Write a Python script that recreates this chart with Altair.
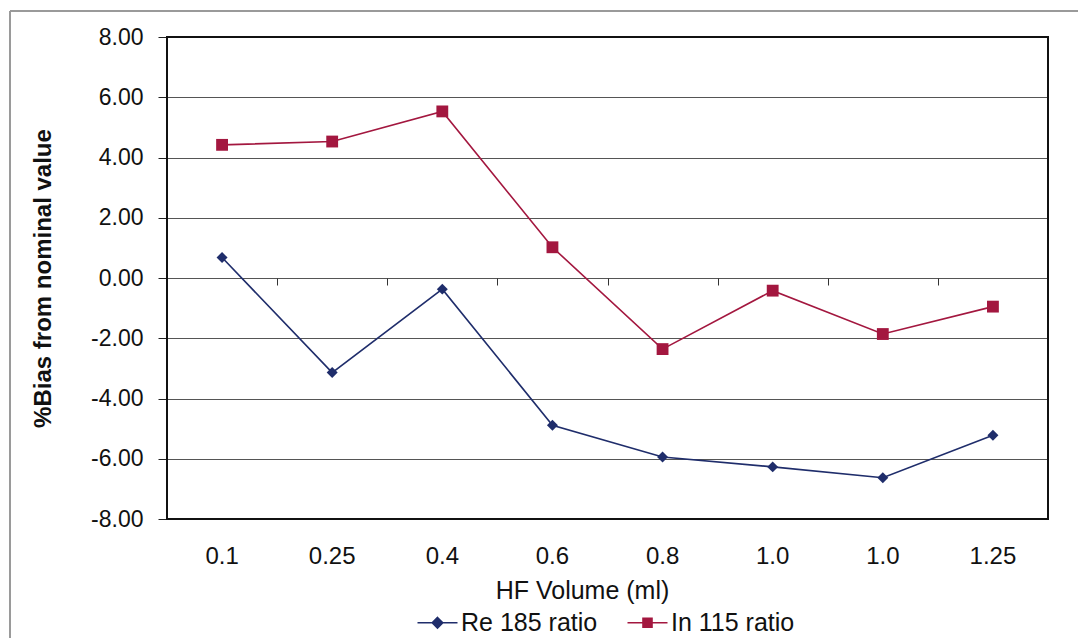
import json
import altair as alt
import pandas as pd

hf_volume = ["0.1", "0.25", "0.4", "0.6", "0.8", "1.0", "1.0", "1.25"]
re185 = [0.68, -3.14, -0.37, -4.89, -5.94, -6.27, -6.63, -5.22]
in115 = [4.42, 4.53, 5.53, 1.02, -2.36, -0.42, -1.86, -0.95]
series = ["Re 185 ratio", "In 115 ratio"]
colors = ["#1F2D6B", "#A3173F"]
y_ticks = [-8, -6, -4, -2, 0, 2, 4, 6, 8]

rows = []
for i, (a, b) in enumerate(zip(re185, in115)):
    rows.append({"idx": i, "series": series[0], "value": a})
    rows.append({"idx": i, "series": series[1], "value": b})
df = pd.DataFrame(rows)

label_expr = json.dumps(hf_volume) + "[datum.value]"
y_label_expr = "(datum.value < 0 ? '-' : '') + format(abs(datum.value), '.2f')"
FONT = "Liberation Sans"

xscale = alt.Scale(type="band", paddingInner=0, paddingOuter=0)
yscale = alt.Scale(domain=[-8, 8], nice=False, zero=False)
cscale = alt.Scale(domain=series, range=colors)

base = alt.Chart(df)

main_x_axis = alt.Axis(
    orient="bottom", ticks=False, domain=False, grid=False,
    labelExpr=label_expr, labelFontSize=24, labelFont=FONT,
    labelColor="#111", labelAngle=0, labelBaseline="middle", labelPadding=37,
    title="HF Volume (ml)", titleFontSize=25, titleFont=FONT, titleFontWeight="normal",
    titleColor="#111", titleX=415, titleY=71, titleBaseline="middle")
y_axis = alt.Axis(
    values=y_ticks, labelExpr=y_label_expr, grid=True, gridColor="#555", gridWidth=1,
    tickSize=9, tickColor="#222", domain=False,
    labelFontSize=23, labelFont=FONT, labelColor="#111", labelPadding=15,
    title="%Bias from nominal value", titleFontSize=24, titleFont=FONT,
    titleFontWeight="bold", titleColor="#111", titleX=-124, titleY=241,
    titleAngle=-90, titleBaseline="middle", titleAlign="center")

line_re = base.transform_filter(alt.datum.series == series[0]).mark_line(
    strokeWidth=1.6, color=colors[0]).encode(
    x=alt.X("idx:O", scale=xscale, axis=main_x_axis),
    y=alt.Y("value:Q", scale=yscale, axis=y_axis),
)
line_in = base.transform_filter(alt.datum.series == series[1]).mark_line(
    strokeWidth=1.6, color=colors[1]).encode(
    x=alt.X("idx:O", scale=xscale, axis=None),
    y=alt.Y("value:Q", scale=yscale),
)
pts_re = base.transform_filter(alt.datum.series == series[0]).mark_point(
    filled=True, opacity=1, shape="diamond", size=120, color=colors[0]).encode(
    x=alt.X("idx:O", scale=xscale, axis=None),
    y=alt.Y("value:Q", scale=yscale),
)
pts_in = base.transform_filter(alt.datum.series == series[1]).mark_point(
    filled=True, opacity=1, shape="square", size=140, color=colors[1]).encode(
    x=alt.X("idx:O", scale=xscale, axis=None),
    y=alt.Y("value:Q", scale=yscale),
)


def diamond_path(r):
    return f"M0,-{r} L{r},0 L0,{r} L-{r},0 Z"


def square_path(r):
    return f"M-{r},-{r} L{r},-{r} L{r},{r} L-{r},{r} Z"


# legend symbols: a short line with a solid marker (stroke-only, filled by nesting)
line_diamond = "M-4,0 L4,0 " + " ".join(diamond_path(r) for r in [1.05, 0.75, 0.45, 0.15])
line_square = "M-4,0 L4,0 " + " ".join(square_path(r) for r in [0.9, 0.6, 0.3, 0.05])

leg = alt.Legend(
    title=None, orient="none", direction="horizontal", legendX=258, legendY=573,
    labelFontSize=25, labelFont=FONT, labelColor="#111", symbolSize=100,
    symbolOpacity=1, symbolStrokeWidth=1.6, labelOffset=11, columnPadding=26)

legend_layer = base.mark_point(filled=False, opacity=0, strokeWidth=1.6).encode(
    x=alt.X("idx:O", scale=xscale, axis=alt.Axis(
        orient="bottom", offset=-241, labels=False, domain=False, ticks=True,
        tickBand="extent", tickSize=7, tickColor="#333", grid=False, title=None)),
    y=alt.Y("value:Q", scale=yscale),
    color=alt.Color("series:N", scale=cscale, legend=leg),
    shape=alt.Shape("series:N", scale=alt.Scale(domain=series, range=[line_diamond, line_square]), legend=leg),
)

frame_top = alt.Chart(df).mark_rule(color="#9A9A9A", strokeWidth=1.5).encode(
    x=alt.value(-157), x2=alt.value(911), y=alt.value(-26))
frame_left = alt.Chart(df).mark_rule(color="#9A9A9A", strokeWidth=1.5).encode(
    x=alt.value(-157), y=alt.value(-26), y2=alt.value(601))
plot_border = alt.Chart(df).mark_rect(fillOpacity=0, stroke="#111", strokeWidth=2).encode(
    x=alt.value(0), x2=alt.value(881), y=alt.value(0), y2=alt.value(482))

chart = alt.layer(frame_top, frame_left, plot_border, line_re, line_in, pts_re, pts_in,
                  legend_layer).resolve_axis(
    x="independent"
).properties(
    width=881, height=482,
    padding={"left": 167, "top": 37, "right": 30, "bottom": 119},
    autosize=alt.AutoSizeParams(type="none"),
    background="white",
).configure_view(stroke=None).configure(font=FONT)

chart.save("out.html", embed_options={"renderer": "svg", "actions": False})
